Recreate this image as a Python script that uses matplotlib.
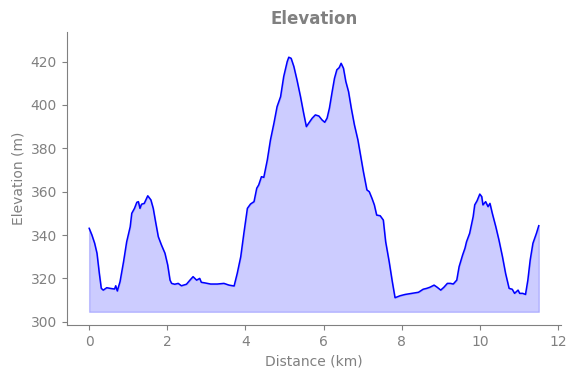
import matplotlib
matplotlib.use("Agg")
import matplotlib.pyplot as plt

distance_km = [
    0.00, 0.07, 0.14, 0.20, 0.26, 0.31, 0.36, 0.45, 0.54, 0.65, 0.68, 0.72, 0.79, 0.88, 0.96,
    1.05, 1.09, 1.16, 1.22, 1.26, 1.30, 1.34, 1.41, 1.50, 1.58, 1.64, 1.70, 1.77, 1.85, 1.94,
    2.01, 2.07, 2.11, 2.19, 2.28, 2.36, 2.49, 2.58, 2.66, 2.75, 2.83, 2.87, 2.94,
    3.11, 3.28, 3.45, 3.58, 3.71, 3.79, 3.88, 3.96,
    4.05, 4.13, 4.22, 4.29, 4.34, 4.41, 4.47, 4.56, 4.64, 4.73, 4.81, 4.90, 4.98,
    5.07, 5.11, 5.17, 5.24, 5.32, 5.41, 5.49, 5.56, 5.62, 5.71, 5.79, 5.88, 5.96,
    6.03, 6.09, 6.15, 6.22, 6.28, 6.34, 6.40, 6.45, 6.51, 6.57, 6.64, 6.71, 6.79, 6.88, 6.96,
    7.02, 7.11, 7.17, 7.24, 7.30, 7.36, 7.45, 7.53, 7.59, 7.68, 7.76, 7.83, 7.96,
    8.09, 8.26, 8.43, 8.55, 8.64, 8.72, 8.83, 8.91, 9.00, 9.08, 9.17, 9.25, 9.32, 9.41,
    9.47, 9.56, 9.62, 9.66, 9.74, 9.83, 9.87, 9.93, 10.00, 10.05, 10.08, 10.15, 10.21,
    10.26, 10.32, 10.41, 10.49, 10.58, 10.66, 10.75, 10.83, 10.89, 10.98, 11.02, 11.10,
    11.17, 11.23, 11.29, 11.36, 11.45, 11.51,
]
elevation_m = [
    343.1, 340.0, 336.2, 331.6, 322.3, 315.4, 314.6, 315.7, 315.4, 315.1, 316.6, 314.2, 318.5, 327.7, 336.9,
    343.8, 350.0, 352.3, 355.1, 355.4, 352.3, 354.2, 354.6, 358.1, 356.2, 352.3, 346.1, 339.2, 335.4, 331.6,
    326.2, 319.2, 317.7, 317.3, 317.7, 316.6, 317.3, 319.2, 320.8, 319.2, 320.0, 318.2, 318.0,
    317.4, 317.4, 317.7, 316.9, 316.5, 322.3, 330.0, 340.8,
    352.3, 354.3, 355.4, 361.6, 363.1, 366.9, 366.6, 374.6, 383.8, 391.6, 399.2, 403.8, 413.1,
    420.0, 422.0, 421.5, 417.7, 411.5, 403.8, 396.2, 390.0, 391.6, 393.9, 395.4, 394.9, 393.1,
    392.0, 393.9, 398.5, 406.1, 412.3, 416.2, 417.2, 419.2, 416.9, 410.8, 406.1, 398.5, 390.8, 383.8, 375.4,
    369.2, 360.8, 360.0, 356.9, 353.9, 349.2, 348.9, 346.9, 336.9, 327.7, 318.5, 311.1, 312.0,
    312.6, 313.1, 313.6, 315.0, 315.4, 315.9, 316.9, 315.9, 314.6, 315.9, 317.7, 317.7, 317.4, 319.2,
    325.4, 330.8, 333.9, 336.9, 340.8, 348.5, 353.9, 355.8, 358.9, 357.7, 353.9, 355.4, 353.1,
    354.6, 350.0, 343.8, 337.7, 330.0, 322.3, 315.4, 315.0, 313.1, 314.6, 313.1, 313.1,
    312.6, 319.2, 328.5, 336.2, 340.8, 344.3,
]
fill_base_m = 304.6

title = "Elevation"
xlabel = "Distance (km)"
ylabel = "Elevation (m)"

gray = "#808080"

fig = plt.figure(figsize=(5.77, 3.78), dpi=100)
ax = fig.add_axes([0.1156, 0.1402, 0.8564, 0.7744])

ax.fill_between(distance_km, elevation_m, fill_base_m, color="blue", alpha=0.2)
ax.plot(distance_km, elevation_m, color="blue", linewidth=1.1)

ax.set_xlim(-0.575, 12.075)
ax.set_ylim(298.5, 433.5)
ax.set_xticks([0, 2, 4, 6, 8, 10, 12])
ax.set_yticks([300, 320, 340, 360, 380, 400, 420])

ax.set_title(title, color=gray, fontsize=12, fontweight="bold")
ax.set_xlabel(xlabel, color=gray, fontsize=10)
ax.set_ylabel(ylabel, color=gray, fontsize=10)

for s in ["top", "right"]:
    ax.spines[s].set_visible(False)
for s in ["left", "bottom"]:
    ax.spines[s].set_color(gray)
ax.tick_params(colors=gray, labelcolor=gray, labelsize=10)

fig.savefig("out.png", dpi=100)
